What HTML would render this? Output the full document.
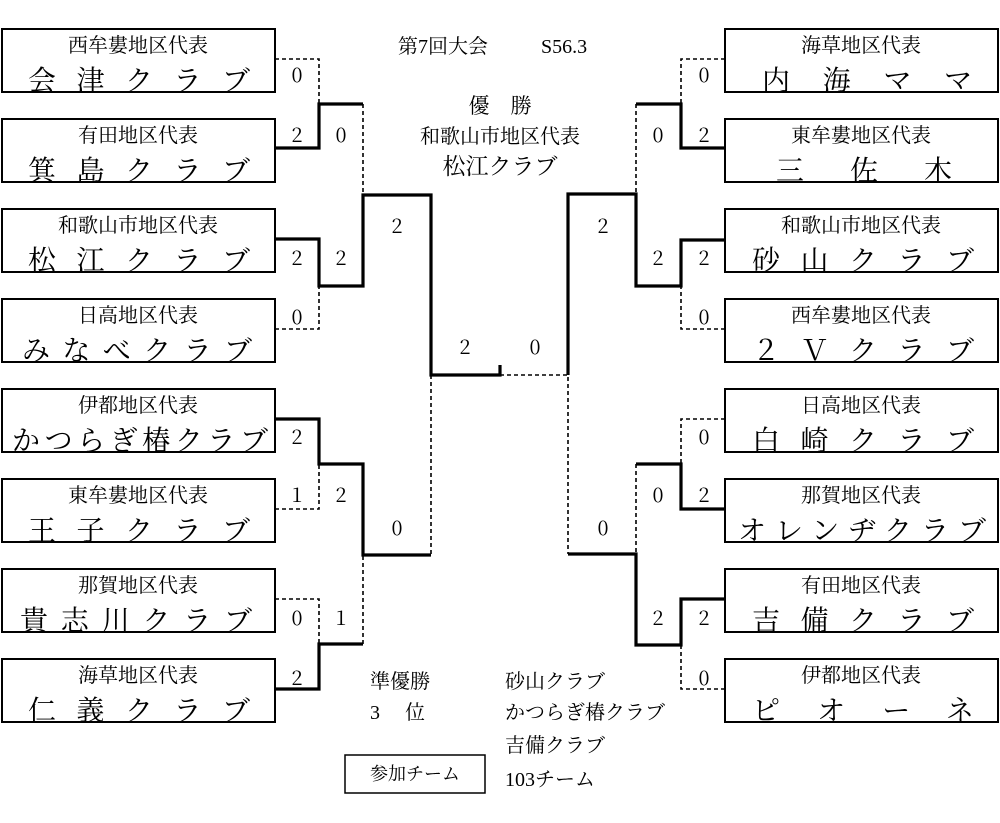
<!DOCTYPE html>
<html><head><meta charset="utf-8"><style>
html,body{margin:0;padding:0;background:#fff;}
svg{display:block;font-family:"Liberation Serif","Noto Serif CJK JP",serif;}
</style></head><body>
<svg width="1000" height="823" viewBox="0 0 1000 823" xmlns="http://www.w3.org/2000/svg">
<g fill="#fff" stroke="#000" stroke-width="2">
<rect x="2" y="29" width="273" height="63"/><rect x="2" y="119" width="273" height="63"/>
<rect x="2" y="209" width="273" height="63"/><rect x="2" y="299" width="273" height="63"/>
<rect x="2" y="389" width="273" height="63"/><rect x="2" y="479" width="273" height="63"/>
<rect x="2" y="569" width="273" height="63"/><rect x="2" y="659" width="273" height="63"/>
<rect x="725" y="29" width="273" height="63"/><rect x="725" y="119" width="273" height="63"/>
<rect x="725" y="209" width="273" height="63"/><rect x="725" y="299" width="273" height="63"/>
<rect x="725" y="389" width="273" height="63"/><rect x="725" y="479" width="273" height="63"/>
<rect x="725" y="569" width="273" height="63"/><rect x="725" y="659" width="273" height="63"/>
<rect x="345" y="755" width="140" height="38" stroke-width="1.5"/>
</g>
<g fill="none" stroke="#000" stroke-width="3.2">
<path d="M275 148 H319 V104 H363"/>
<path d="M275 239 H319 V286 H363 V195 H431 V375 H500 V365"/>
<path d="M275 419 H319 V464 H363 V555 H431"/>
<path d="M275 689 H319 V644 H363"/>
<path d="M725 148 H681 V104 H636"/>
<path d="M725 240 H681 V286 H636 V194 H568 V375"/>
<path d="M725 509 H681 V464 H636"/>
<path d="M725 599 H681 V645 H636 V554 H568"/>
</g>
<g fill="none" stroke="#000" stroke-width="1.6" stroke-dasharray="4,3">
<path d="M275 59 H319 V104"/><path d="M275 329 H319 V286"/>
<path d="M363 104 V195"/>
<path d="M275 509 H319 V464"/><path d="M275 599 H319 V644"/>
<path d="M363 644 V555"/>
<path d="M431 375 V555"/>
<path d="M500 375 H568 V554"/>
<path d="M725 59 H681 V104"/><path d="M725 329 H681 V286"/>
<path d="M636 104 V194"/>
<path d="M725 419 H681 V464"/><path d="M725 689 H681 V645"/>
<path d="M636 464 V554"/>
</g>
<g font-size="20" text-anchor="middle" fill="#000">
<text x="138" y="52">西牟婁地区代表</text><text x="138" y="142">有田地区代表</text>
<text x="138" y="232">和歌山市地区代表</text><text x="138" y="322">日高地区代表</text>
<text x="138" y="412">伊都地区代表</text><text x="138" y="502">東牟婁地区代表</text>
<text x="138" y="592">那賀地区代表</text><text x="138" y="682">海草地区代表</text>
<text x="861" y="52">海草地区代表</text><text x="861" y="142">東牟婁地区代表</text>
<text x="861" y="232">和歌山市地区代表</text><text x="861" y="322">西牟婁地区代表</text>
<text x="861" y="412">日高地区代表</text><text x="861" y="502">那賀地区代表</text>
<text x="861" y="592">有田地区代表</text><text x="861" y="682">伊都地区代表</text>
</g>
<g font-size="28" fill="#000">
<text x="28" y="90" textLength="222" lengthAdjust="spacing">会津クラブ</text>
<text x="28" y="180" textLength="222" lengthAdjust="spacing">箕島クラブ</text>
<text x="28" y="270" textLength="222" lengthAdjust="spacing">松江クラブ</text>
<text x="22" y="360" textLength="230" lengthAdjust="spacing">みなべクラブ</text>
<text x="12" y="450" textLength="256" lengthAdjust="spacing">かつらぎ椿クラブ</text>
<text x="28" y="540" textLength="222" lengthAdjust="spacing">王子クラブ</text>
<text x="20" y="630" textLength="232" lengthAdjust="spacing">貴志川クラブ</text>
<text x="28" y="720" textLength="222" lengthAdjust="spacing">仁義クラブ</text>
<text x="762" y="90" textLength="210" lengthAdjust="spacing">内海ママ</text>
<text x="776" y="180" textLength="176" lengthAdjust="spacing">三佐木</text>
<text x="752" y="270" textLength="222" lengthAdjust="spacing">砂山クラブ</text>
<text x="752" y="360" textLength="222" lengthAdjust="spacing">２Ｖクラブ</text>
<text x="752" y="450" textLength="222" lengthAdjust="spacing">白崎クラブ</text>
<text x="738" y="540" textLength="248" lengthAdjust="spacing">オレンヂクラブ</text>
<text x="752" y="630" textLength="222" lengthAdjust="spacing">吉備クラブ</text>
<text x="752" y="720" textLength="222" lengthAdjust="spacing">ピオーネ</text>
</g>
<g font-size="20" text-anchor="middle" fill="#000" font-family="'Noto Serif CJK JP',serif">
<text x="297" y="82">0</text><text x="297" y="142">2</text><text x="297" y="265">2</text><text x="297" y="324">0</text>
<text x="297" y="444">2</text><text x="297" y="502">1</text><text x="297" y="625">0</text><text x="297" y="685">2</text>
<text x="341" y="142">0</text><text x="341" y="265">2</text><text x="341" y="502">2</text><text x="341" y="625">1</text>
<text x="397" y="233">2</text><text x="397" y="535">0</text>
<text x="465" y="354">2</text><text x="535" y="354">0</text>
<text x="603" y="233">2</text><text x="603" y="535">0</text>
<text x="658" y="142">0</text><text x="658" y="265">2</text><text x="658" y="502">0</text><text x="658" y="625">2</text>
<text x="704" y="82">0</text><text x="704" y="142">2</text><text x="704" y="265">2</text><text x="704" y="324">0</text>
<text x="704" y="444">0</text><text x="704" y="502">2</text><text x="704" y="625">2</text><text x="704" y="685">0</text>
</g>
<g fill="#000" font-size="20">
<text x="398" y="53">第7回大会</text><text x="541" y="53">S56.3</text>
<text x="500" y="113" text-anchor="middle" font-size="21">優　勝</text>
<text x="500" y="143" text-anchor="middle">和歌山市地区代表</text>
<text x="500" y="174" text-anchor="middle" font-size="23">松江クラブ</text>
<text x="370" y="688">準優勝</text><text x="370" y="719">3　 位</text>
<text x="505" y="688">砂山クラブ</text><text x="505" y="719">かつらぎ椿クラブ</text>
<text x="505" y="752">吉備クラブ</text><text x="505" y="786">103チーム</text>
<text x="415" y="780" text-anchor="middle" font-size="18">参加チーム</text>
</g>
</svg>
</body></html>
